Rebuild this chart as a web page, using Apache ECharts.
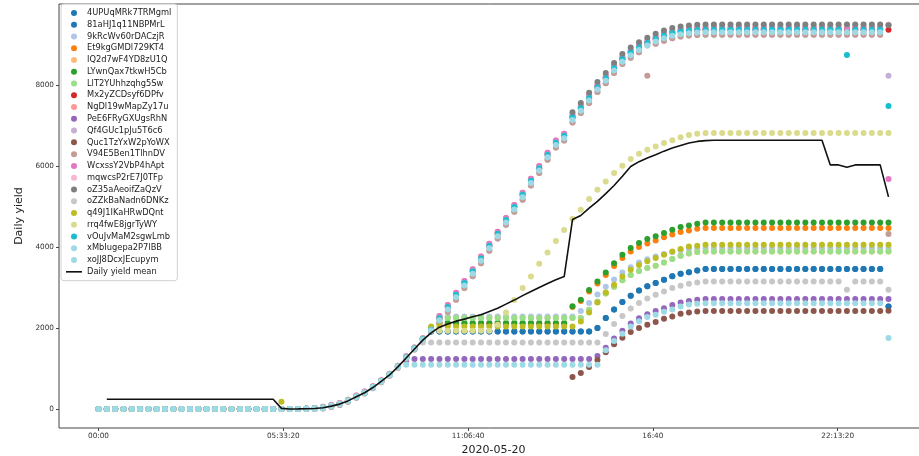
<!DOCTYPE html>
<html><head><meta charset="utf-8">
<script src="https://cdn.jsdelivr.net/npm/echarts@6/dist/echarts.min.js"></script>
<style>html,body{margin:0;padding:0;background:#fff}#c{width:919px;height:456px}</style>
</head><body><div id="c"></div>
<script>
const times = ['00:00','00:15','00:30','00:45','01:00','01:15','01:30','01:45','02:00','02:15','02:30','02:45','03:00','03:15','03:30','03:45','04:00','04:15','04:30','04:45','05:00','05:15','05:30','05:45','06:00','06:15','06:30','06:45','07:00','07:15','07:30','07:45','08:00','08:15','08:30','08:45','09:00','09:15','09:30','09:45','10:00','10:15','10:30','10:45','11:00','11:15','11:30','11:45','12:00','12:15','12:30','12:45','13:00','13:15','13:30','13:45','14:00','14:15','14:30','14:45','15:00','15:15','15:30','15:45','16:00','16:15','16:30','16:45','17:00','17:15','17:30','17:45','18:00','18:15','18:30','18:45','19:00','19:15','19:30','19:45','20:00','20:15','20:30','20:45','21:00','21:15','21:30','21:45','22:00','22:15','22:30','22:45','23:00','23:15','23:30','23:45'];
const xTickValues = [0, 20000, 40000, 60000, 80000];
const xTickLabels = ['00:00', '05:33:20', '11:06:40', '16:40', '22:13:20'];
const yTickValues = [0, 2000, 4000, 6000, 8000];
const names = ['4UPUqMRk7TRMgml','81aHJ1q11NBPMrL','9kRcWv60rDACzjR','Et9kgGMDl729KT4','IQ2d7wF4YD8zU1Q','LYwnQax7tkwH5Cb','LlT2YUhhzqhg5Sw','Mx2yZCDsyf6DPfv','NgDl19wMapZy17u','PeE6FRyGXUgsRhN','Qf4GUc1pJu5T6c6','Quc1TzYxW2pYoWX','V94E5Ben1TlhnDV','WcxssY2VbP4hApt','mqwcsP2rE7J0TFp','oZ35aAeoifZaQzV','oZZkBaNadn6DNKz','q49J1IKaHRwDQnt','rrq4fwE8jgrTyWY','vOuJvMaM2sgwLmb','xMbIugepa2P7lBB','xoJJ8DcxJEcupym'];
const colors = ['#1f77b4','#1f77b4','#aec7e8','#ff7f0e','#ffbb78','#2ca02c','#98df8a','#d62728','#ff9896','#9467bd','#c5b0d5','#8c564b','#c49c94','#e377c2','#f7b6d2','#7f7f7f','#c7c7c7','#bcbd22','#dbdb8d','#17becf','#9edae5','#9edae5'];

const y_4UPU = [0,0,0,0,0,0,0,0,0,0, 0,0,0,0,0,0,0,0,0,0, 0,0,0,0,0,5,15,35,80,130,
 210,310,410,540,690,850,1050,1280,1500,1730, 1917,1917,1917,1917,1917,1917,1917,1917,1917,1917,
 1917,1917,1917,1917,1917,1917,1917,1917,1917,1917, 2000,2250,2460,2640,2800,2930,3030,3111,3193,3276,
 3342,3375,3424,3457,3457,3457,3457,3457,3457,3457, 3457,3457,3457,3457,3457,3457,3457,3457,3457,3457,
 3457,3457,3457,3457,3457,2533];
const y_81aH = [0,0,0,0,0,0,0,0,0,0, 0,0,0,0,0,0,0,0,0,0, 0,0,0,0,0,5,15,35,80,130,
 210,310,410,540,690,850,1050,1280,1500,1730, 1917,1917,1917,1917,1917,1917,1917,1917,1917,1917,
 1917,1917,1917,1917,1917,1917,1917,1917,1917,1917, 2000,2250,2460,2640,2800,2930,3030,3111,3193,3276,
 3342,3375,3424,3457,3457,3457,3457,3457,3457,3457, 3457,3457,3457,3457,3457,3457,3457,3457,3457,3457,
 3457,3457,3457,3457,3457,2533];
const y_9kRc = [0,0,0,0,0,0,0,0,0,0, 0,0,0,0,0,0,0,0,0,0, 0,0,0,0,0,5,15,35,80,130,
 210,310,410,540,690,850,1050,1280,1500,1730, 1960,2287,2287,2287,2287,2287,2287,2287,2287,2287,
 2287,2287,2287,2287,2287,2287,2287,2287,2420,2620, 2830,3020,3200,3370,3500,3620,3700,3770,3830,3880,
 3920,3950,3965,3975,3975,3975,3975,3975,3975,3975, 3975,3975,3975,3975,3975,3975,3975,3975,3975,3975,
 3975,3975,3975,3975,3975,3975];
const y_Et9k = [0,0,0,0,0,0,0,0,0,0, 0,0,0,0,0,0,0,0,0,0, 0,0,0,0,0,5,15,35,80,130,
 210,310,410,540,690,850,1050,1280,1500,1730, 1960,2110,2110,2110,2110,2110,2110,2110,2110,2110,
 2110,2110,2110,2110,2110,2110,2110,2520,2670,2900, 3100,3310,3530,3730,3890,4000,4090,4160,4240,4310,
 4370,4410,4450,4469,4469,4469,4469,4469,4469,4469, 4469,4469,4469,4469,4469,4469,4469,4469,4469,4469,
 4469,4469,4469,4469,4469,4469];
const y_IQ2d = [0,0,0,0,0,0,0,0,0,0, 0,0,0,0,0,0,0,0,0,0, 0,0,0,0,0,5,15,35,80,130,
 210,310,410,540,690,850,1050,1280,1500,1730, 1960,2222,2247,2247,2247,2247,2247,2247,2247,2247,
 2247,2247,2247,2247,2247,2247,2247,2247,2247,2450, 2650,2850,3020,3180,3310,3410,3480,3538,3620,3703,
 3786,3840,3880,3891,3891,3891,3891,3891,3891,3891, 3891,3891,3891,3891,3891,3891,3891,3891,3891,3891,
 3891,3891,3891,3891,3891,3891];
const y_LYwn = [0,0,0,0,0,0,0,0,0,0, 0,0,0,0,0,0,0,0,0,0, 0,0,0,0,0,5,15,35,80,130,
 210,310,410,540,690,850,1050,1280,1500,1730, 1960,2123,2123,2123,2123,2123,2123,2123,2123,2123,
 2123,2123,2123,2123,2123,2123,2123,2540,2700,2940, 3150,3370,3600,3810,3975,4100,4200,4270,4350,4428,
 4493,4535,4576,4608,4608,4608,4608,4608,4608,4608, 4608,4608,4608,4608,4608,4608,4608,4608,4608,4608,
 4608,4608,4608,4608,4608,4608];
const y_LlT2 = [0,0,0,0,0,0,0,0,0,0, 0,0,0,0,0,0,0,0,0,0, 0,0,0,0,0,5,15,35,80,130,
 210,310,410,540,690,850,1050,1280,1500,1730, 1960,2222,2247,2247,2247,2247,2247,2247,2247,2247,
 2247,2247,2247,2247,2247,2247,2247,2247,2247,2450, 2650,2850,3020,3180,3310,3410,3480,3538,3620,3703,
 3786,3840,3880,3891,3891,3891,3891,3891,3891,3891, 3891,3891,3891,3891,3891,3891,3891,3891,3891,3891,
 3891,3891,3891,3891,3891,3891];
const y_Mx2y = [0,0,0,0,0,0,0,0,0,0, 0,0,0,0,0,0,0,0,0,0, 0,0,0,0,0,5,15,35,80,130,
 210,310,410,540,690,850,1050,1280,1500,1730, 1960,2250,2520,2820,3110,3400,3720,4030,4330,4670,
 4990,5290,5640,5950,6280,6580,6750,7200,7430,7680, 7950,8170,8420,8640,8800,8930,9040,9140,9220,9280,
 9320,9345,9360,9367,9367,9367,9367,9367,9367,9367, 9367,9367,9367,9367,9367,9367,9367,9367,9367,9367,
 9367,9367,9367,9367,9367,9370];
const y_NgDl = [0,0,0,0,0,0,0,0,0,0, 0,0,0,0,0,0,0,0,0,0, 0,0,0,0,0,10,25,55,100,150,
 230,330,430,560,710,870,1070,1300,1520,1750, 1985,2300,2570,2870,3160,3450,3770,4080,4380,4720,
 5040,5340,5690,6000,6330,6630,6800,7250,7480,7730, 8000,8220,8470,8690,8850,8980,9090,9190,9270,9330,
 9370,9395,9410,9417,9417,9417,9417,9417,9417,9417, 9417,9417,9417,9417,9417,9417,9417,9417,9417,9417,
 9417,9417,9417,9417,9417,9490];
const y_PeE6 = [0,0,0,0,0,0,0,0,0,0, 0,0,0,0,0,0,0,0,0,0, 0,0,0,0,0,5,15,35,80,130,
 210,310,410,540,690,850,1050,1200,1234,1234, 1234,1234,1234,1234,1234,1234,1234,1234,1234,1234,
 1234,1234,1234,1234,1234,1234,1234,1234,1234,1234, 1310,1510,1740,1930,2110,2240,2340,2420,2490,2570,
 2630,2670,2700,2716,2716,2716,2716,2716,2716,2716, 2716,2716,2716,2716,2716,2716,2716,2716,2716,2716,
 2716,2716,2716,2716,2716,2716];
const y_Qf4G = [0,0,0,0,0,0,0,0,0,0, 0,0,0,0,0,0,0,0,0,0, 0,0,0,0,0,0,0,10,50,100,
 180,280,380,510,660,820,1020,1250,1470,1700, 1930,2130,2400,2700,2990,3280,3600,3910,4210,4550,
 4870,5170,5520,5830,6160,6460,6630,7080,7310,7560, 7830,8050,8300,8520,8680,8810,8980,9020,9100,9160,
 9200,9225,9240,9247,9247,9247,9247,9247,9247,9247, 9247,9247,9247,9247,9247,9247,9247,9247,9247,9247,
 9247,9247,9247,9247,9247,8230];
const y_Quc1 = [0,0,0,0,0,0,0,0,0,0, 0,0,0,0,0,0,0,0,0,0, 0,0,0,null,null,null,null,null,null,null,
 null,null,null,null,null,null,null,null,null,null, null,null,null,null,null,null,null,null,null,null,
 null,null,null,null,null,null,null,790,889,1040, 1210,1400,1600,1760,1900,2000,2080,2150,2229,2287,
 2353,2385,2411,2420,2420,2420,2420,2420,2420,2420, 2420,2420,2420,2420,2420,2420,2420,2420,2420,2420,
 2420,2420,2420,2420,2420,2427];
const y_V94E = [0,0,0,0,0,0,0,0,0,0, 0,0,0,0,0,0,0,0,0,0, 0,0,0,0,0,0,0,10,50,100,
 180,280,380,510,660,820,1020,1250,1470,1700, 1930,2130,2400,2700,2990,3280,3600,3910,4210,4550,
 4870,5170,5520,5830,6160,6460,6630,7080,7310,7560, 7830,8050,8300,8520,8680,8810,8230,9020,9100,9160,
 9200,9225,9240,9247,9247,9247,9247,9247,9247,9247, 9247,9247,9247,9247,9247,9247,9247,9247,9247,9247,
 9247,9247,9247,9247,9247,4320];
const y_Wcxs = [0,0,0,0,0,0,0,0,0,0, 0,0,0,0,0,0,0,0,0,0, 0,0,0,0,0,10,25,55,100,150,
 230,330,430,560,710,870,1070,1300,1520,1750, 1985,2300,2570,2870,3160,3450,3770,4080,4380,4720,
 5040,5340,5690,6000,6330,6630,6800,7250,7480,7730, 8000,8220,8470,8690,8850,8980,9090,9190,9270,9330,
 9370,9395,9410,9417,9417,9417,9417,9417,9417,9417, 9417,9417,9417,9417,9417,9417,9417,9417,9417,9417,
 9417,9417,9417,9417,9417,5680];
const y_mqwc = [0,0,0,0,0,0,0,0,0,0, 0,0,0,0,0,0,0,0,0,0, 0,0,0,0,0,5,15,35,80,130,
 210,310,410,540,690,850,1050,1280,1500,1730, 1960,2250,2520,2820,3110,3400,3720,4030,4330,4670,
 4990,5290,5640,5950,6280,6580,6750,7200,7430,7680, 7950,8170,8420,8640,8800,8930,9040,9140,9220,9280,
 9320,9345,9360,9367,9367,9367,9367,9367,9367,9367, 9367,9367,9367,9367,9367,9367,9367,9367,9367,9367,
 9490,9367,9367,9367,9367,9490];
const y_oZ35 = [0,0,0,0,0,0,0,0,0,0, 0,0,0,0,0,0,0,0,0,0, 0,0,0,null,null,null,null,null,null,null,
 null,null,null,null,null,null,null,null,null,null, null,null,null,null,null,null,null,null,null,null,
 null,null,null,null,null,null,null,7330,7560,7810, 8080,8300,8550,8770,8930,9060,9170,9270,9350,9410,
 9450,9475,9490,9497,9497,9497,9497,9497,9497,9497, 9497,9497,9497,9497,9497,9497,9497,9497,9497,9497,
 9497,9497,9497,9497,9497,9480];
const y_oZZk = [0,0,0,0,0,0,0,0,0,0, 0,0,0,0,0,0,0,0,0,0, 0,0,0,0,0,5,15,35,80,130,
 210,310,410,540,690,850,1050,1280,1500,1645, 1645,1645,1645,1645,1645,1645,1645,1645,1645,1645,
 1645,1645,1645,1645,1645,1645,1645,1645,1645,1645, 1645,1850,2100,2300,2480,2620,2730,2822,2904,2986,
 3045,3094,3127,3151,3151,3151,3151,3151,3151,3151, 3151,3151,3151,3151,3151,3151,3151,3151,3151,3151,
 2946,3151,3151,3151,3151,2946];
const y_q49J = [0,0,0,0,0,0,0,0,0,0, 0,0,0,0,0,0,0,0,0,0, 0,0,180,0,0,5,15,30,72,125,
 210,310,410,540,690,850,1050,1280,1500,1730, 2040,2040,2040,2040,2040,2040,2040,2040,2040,2040,
 2040,2040,2040,2040,2040,2040,2040,2040,2164,2386, 2633,2880,3069,3274,3440,3560,3650,3728,3811,3893,
 3951,4017,4033,4057,4057,4057,4057,4057,4057,4057, 4057,4057,4057,4057,4057,4057,4057,4057,4057,4057,
 4057,4057,4057,4057,4057,4057];
const y_rrq4 = [0,0,0,0,0,0,0,0,0,0, 0,0,0,0,0,0,0,0,0,0, 0,0,0,0,0,5,15,35,80,130,
 210,310,410,540,690,850,1050,1280,1500,1730, 1930,1930,1930,1930,1930,1930,1930,1930,2080,2386,
 2695,2988,3274,3588,3867,4150,4420,4700,4921,5185, 5415,5620,5827,6007,6173,6304,6403,6485,6568,6640,
 6710,6770,6800,6815,6815,6815,6815,6815,6815,6815, 6815,6815,6815,6815,6815,6815,6815,6815,6815,6815,
 6815,6815,6815,6815,6815,6815];
const y_vOuJ = [0,0,0,0,0,0,0,0,0,0, 0,0,0,0,0,0,0,0,0,0, 0,0,0,0,0,5,15,35,80,130,
 210,310,410,540,690,850,1050,1280,1500,1730, 1960,2250,2520,2820,3110,3400,3720,4030,4330,4670,
 4990,5290,5640,5950,6280,6580,6750,7200,7430,7680, 7950,8170,8420,8640,8800,8930,9040,9140,9220,9280,
 9320,9345,9360,9367,9367,9367,9367,9367,9367,9367, 9367,9367,9367,9367,9367,9367,9367,9367,9367,9367,
 8748,9367,9367,9367,9367,7486];
const y_xMbI = [0,0,0,0,0,0,0,0,0,0, 0,0,0,0,0,0,0,0,0,0, 0,0,0,0,0,0,5,20,65,115,
 195,295,395,525,675,835,1035,1265,1485,1715, 1945,2190,2460,2760,3050,3340,3660,3970,4270,4610,
 4930,5230,5580,5890,6220,6520,6690,7140,7370,7620, 7890,8110,8360,8580,8740,8870,8980,9080,9160,9220,
 9260,9285,9300,9307,9307,9307,9307,9307,9307,9307, 9307,9307,9307,9307,9307,9307,9307,9307,9307,9307,
 9307,9307,9307,9307,9307,null];
const y_xoJJ = [0,0,0,0,0,0,0,0,0,0, 0,0,0,0,0,0,0,0,0,0, 0,0,0,0,0,5,15,35,80,130,
 210,310,410,540,690,850,1050,1094,1094,1094, 1094,1094,1094,1094,1094,1094,1094,1094,1094,1094,
 1094,1094,1094,1094,1094,1094,1094,1094,1094,1094, 1094,1450,1680,1860,2040,2170,2270,2330,2400,2460,
 2530,2580,2600,2610,2610,2610,2610,2610,2610,2610, 2610,2610,2610,2610,2610,2610,2610,2610,2610,2610,
 2610,2610,2610,2610,2610,1753];
const y_mean = [null,240,240,240,240,240,240,240,240,240, 240,240,240,240,240,240,240,240,240,240, 240,240,15,0,2,5,12,30,70,120,
 200,300,400,530,680,840,1040,1260,1480,1700, 1880,2020,2100,2170,2220,2280,2330,2410,2490,2590,
 2690,2800,2900,3000,3100,3190,3270,4680,4780,4960, 5130,5320,5520,5750,5990,6110,6200,6280,6370,6450,
 6510,6570,6610,6630,6640,6640,6640,6640,6640,6640, 6640,6640,6640,6640,6640,6640,6640,6640,6030,6030,
 5970,6030,6030,6030,6030,5240];

const seriesValues = [y_4UPU,y_81aH,y_9kRc,y_Et9k,y_IQ2d,y_LYwn,y_LlT2,y_Mx2y,y_NgDl,y_PeE6,y_Qf4G,y_Quc1,y_V94E,y_Wcxs,y_mqwc,y_oZ35,y_oZZk,y_q49J,y_rrq4,y_vOuJ,y_xMbI,y_xoJJ];

const secs = times.map(t => { const p = t.split(':'); return (+p[0]) * 3600 + (+p[1]) * 60; });
const toPairs = vals => vals.map((v, i) => [secs[i], v]).filter(p => p[1] !== null);

const series = names.map((n, k) => ({
  name: n, type: 'scatter', data: toPairs(seriesValues[k]),
  symbol: 'circle', symbolSize: 6, itemStyle: { color: colors[k], opacity: 1 },
  emphasis: { disabled: true }, z: 2
}));
series.push({
  name: 'Daily yield mean', type: 'line', data: toPairs(y_mean), showSymbol: false, symbol: 'none',
  lineStyle: { color: '#111', width: 1.6 }, itemStyle: { color: '#111' }, z: 5, emphasis: { disabled: true }
});

const legendData = names.map(n => ({ name: n, icon: 'circle' }));
legendData.push({ name: 'Daily yield mean', icon: 'path://M0,0H16V1.6H0Z', itemStyle: { color: '#111' } });

const chart = echarts.init(document.getElementById('c'), null, { renderer: 'canvas' });
chart.setOption({
  animation: false,
  backgroundColor: '#fff',
  textStyle: { fontFamily: 'DejaVu Sans' },
  grid: { left: 59, right: -9, top: 4, bottom: 28, outerBoundsMode: 'none', containLabel: false,
    show: true, borderColor: '#444', borderWidth: 1, backgroundColor: 'transparent' },
  legend: {
    orient: 'vertical', left: 61, top: 4, data: legendData,
    itemWidth: 16, itemHeight: 6, itemGap: 0,
    padding: [3, 6, 3, 5],
    textStyle: { fontSize: 8.3, lineHeight: 11.77, color: '#222', fontFamily: 'DejaVu Sans' },
    backgroundColor: 'rgba(255,255,255,0.85)', borderColor: '#d0d0d0', borderWidth: 1, borderRadius: 3,
    selectedMode: false
  },
  xAxis: {
    type: 'value', min: -4275, max: 89775,
    name: '2020-05-20', nameLocation: 'middle', nameGap: 16,
    nameTextStyle: { fontSize: 11, color: '#222', fontFamily: 'DejaVu Sans' },
    axisLine: { show: false, onZero: false },
    axisTick: { show: true, length: 3, lineStyle: { color: '#444' }, customValues: xTickValues },
    axisLabel: { fontSize: 7.3, color: '#333', margin: 5, customValues: xTickValues,
      formatter: v => { const k = xTickValues.indexOf(v); return k >= 0 ? xTickLabels[k] : ''; } },
    splitLine: { show: false }
  },
  yAxis: {
    type: 'value', min: -470, max: 10005,
    name: 'Daily yield', nameLocation: 'middle', nameGap: 28,
    nameTextStyle: { fontSize: 11, color: '#222', fontFamily: 'DejaVu Sans' },
    axisLine: { show: false, onZero: false },
    axisTick: { show: true, length: 3, lineStyle: { color: '#444' }, customValues: yTickValues },
    axisLabel: { fontSize: 7.3, color: '#333', margin: 5, customValues: yTickValues, formatter: v => String(v) },
    splitLine: { show: false }
  },
  series: series
});
</script></body></html>
